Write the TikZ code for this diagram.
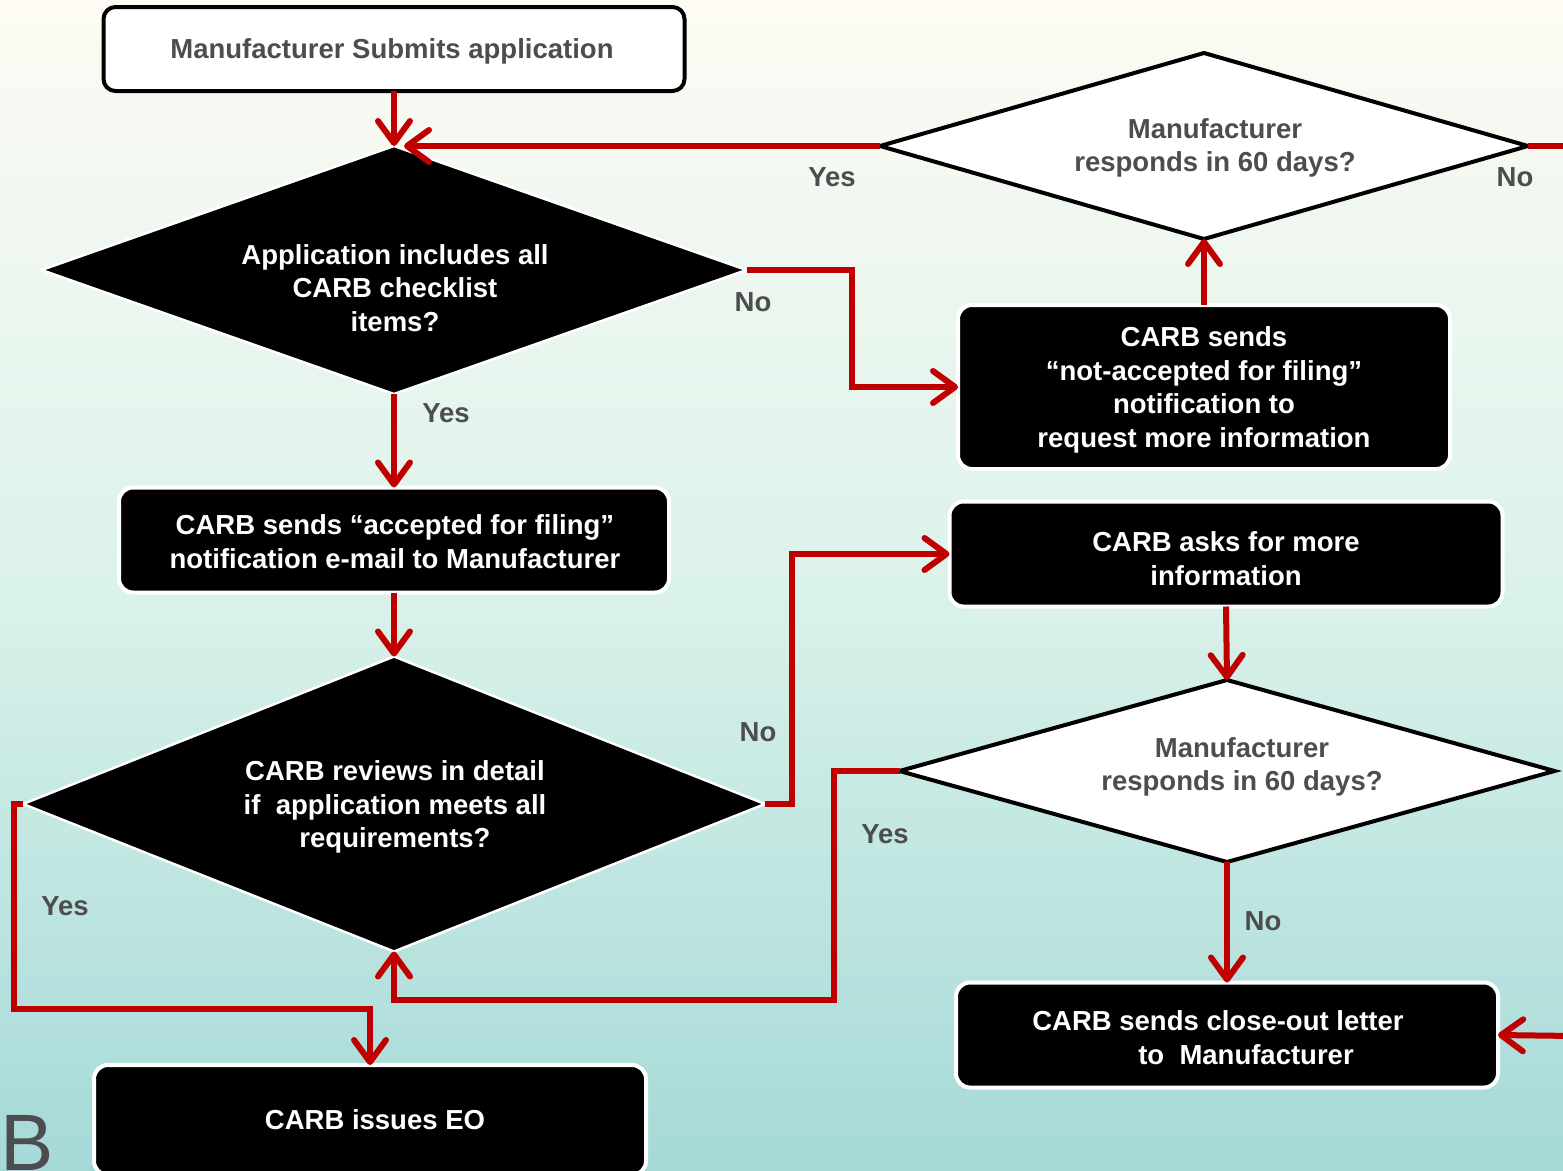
\documentclass[tikz,border=0pt]{standalone}
\usepackage{fontspec}
\setmainfont{Liberation Sans}
\usetikzlibrary{shapes.geometric,arrows.meta,calc}
\definecolor{redline}{HTML}{C00000}
\definecolor{graytxt}{HTML}{4D4D4F}
\definecolor{bgtop}{HTML}{FDFBF4}
\definecolor{bgmid}{HTML}{DBF2EA}
\definecolor{bgbot}{HTML}{A5D9D8}
\tikzset{
  blackbox/.style={rectangle, rounded corners=14pt, fill=black, draw=white, line width=4pt, inner sep=0pt, outer sep=0pt},
  whitebox/.style={rectangle, rounded corners=12pt, fill=white, draw=black, line width=4pt, inner sep=0pt, outer sep=0pt},
  blackdia/.style={diamond, fill=black, draw=white, line width=2.5pt, inner sep=0pt, outer sep=0pt},
  whitedia/.style={diamond, fill=white, draw=black, line width=4pt, inner sep=0pt, outer sep=0pt},
  wtext/.style={text=white, font=\bfseries\fontsize{27.5}{33.7}\selectfont, align=center, inner sep=0pt},
  gtext/.style={text=graytxt, font=\bfseries\fontsize{27.5}{33.7}\selectfont, align=center, inner sep=0pt},
  lbl/.style={text=graytxt, font=\bfseries\fontsize{27.5}{33.7}\selectfont, inner sep=0pt},
  conn/.style={draw=redline, line width=6pt, line join=miter, -{Straight Barb[length=22pt,width=32pt,round]}},
  plain/.style={draw=redline, line width=6pt}
}
\begin{document}
\begin{tikzpicture}[x=1pt,y=-1pt]
\useasboundingbox (0,0) rectangle (1563,1170);
\clip (0,0) rectangle (1563,1170);
\shade[top color=bgtop, bottom color=bgbot, middle color=bgmid] (0,0) rectangle (1563,1170);

% shapes
\node[whitebox, minimum width=581pt, minimum height=84pt] (b1) at (394,49) {};
\node[blackdia, minimum width=705pt, minimum height=248pt] (d1) at (394,270) {};
\node[whitedia, minimum width=648pt, minimum height=186pt] (dTR) at (1204,146) {};
\node[blackbox, minimum width=492pt, minimum height=164pt] (b4) at (1204,387) {};
\node[blackbox, minimum width=550pt, minimum height=105pt] (b5) at (394,540) {};
\node[blackdia, minimum width=742pt, minimum height=295pt] (d2) at (394,804) {};
\node[blackbox, minimum width=553pt, minimum height=105pt] (b7) at (1226,554) {};
\node[whitedia, minimum width=655pt, minimum height=182pt] (dBR) at (1227,771) {};
\node[blackbox, minimum width=542pt, minimum height=105pt] (b9) at (1227,1035) {};
\node[blackbox, minimum width=552pt, minimum height=110pt] (bEO) at (370,1120) {};

% texts
\node[gtext] (t1) at (392,51) {Manufacturer Submits application};
\node[wtext] (td1) at (395,288) {Application includes all\\CARB checklist\\items?};
\node[gtext] (tTR) at (1215,148) {Manufacturer\\responds in 60 days?};
\node[wtext] (t4) at (1204,390) {CARB sends\\“not-accepted for filing”\\notification to\\request more information};
\node[wtext] (t5) at (395,542) {CARB sends “accepted for filing”\\notification e-mail to Manufacturer};
\node[wtext] (td2) at (395,807) {CARB reviews in detail\\if\ \ application meets all\\requirements?};
\node[wtext] (t7) at (1226,559) {CARB asks for more\\information};
\node[gtext] (tBR) at (1242,767) {Manufacturer\\responds in 60 days?};
\node[wtext] (t9) at (1218,1038) {CARB sends close-out letter\\\hspace*{56pt}to\ \ Manufacturer};
\node[wtext] (tEO) at (375,1120) {CARB issues EO};
\node[text=graytxt, font=\fontsize{80}{80}\selectfont, inner sep=0pt, anchor=base west] (B) at (0,1170) {B};

% off-page ends
\coordinate (offR1) at (1575,146);
\coordinate (offR2) at (1575,1036);

% connectors
\draw[conn] (b1.south) -- (d1.north);
\draw[conn] (dTR.west) -- ([xshift=10pt]d1.north);
\draw[plain] (dTR.east) -- (offR1);
\draw[conn] (d1.east) -- ++(105,0) |- (b4.west);
\draw[conn] (b4.north) -- (dTR.south);
\draw[conn] (d1.south) -- (b5.north);
\draw[conn] (b5.south) -- (d2.north);
\draw[conn] (d2.east) -- ++(27,0) |- (b7.west);
\draw[conn] (b7.south) -- (dBR.north);
\draw[conn] (dBR.west) -- ++(-66,0) -- ++(0,229) -| (d2.south);
\draw[conn] (d2.west) -- ++(-9,0) -- ++(0,205) -| (bEO.north);
\draw[conn] (dBR.south) -- (b9.north);
\draw[conn] (offR2) -- (b9.east);

% labels
\node[lbl] (l1) at (832,177) {Yes};
\node[lbl] (l2) at (1515,177) {No};
\node[lbl] (l3) at (753,302) {No};
\node[lbl] (l4) at (446,413) {Yes};
\node[lbl] (l5) at (758,732) {No};
\node[lbl] (l6) at (885,834) {Yes};
\node[lbl] (l7) at (65,906) {Yes};
\node[lbl] (l8) at (1263,921) {No};
\end{tikzpicture}
\end{document}
